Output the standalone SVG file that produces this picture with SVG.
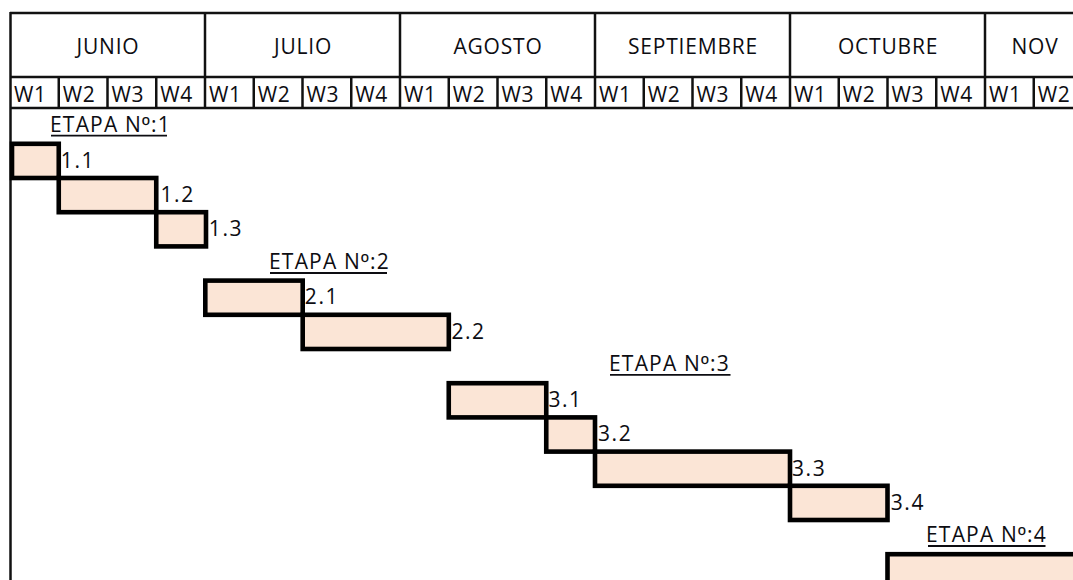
<svg xmlns="http://www.w3.org/2000/svg" width="1073" height="580" viewBox="0 0 1073 580">
  <style>
    .grid { stroke: #111; stroke-width: 2.5; fill: none; }
    text { font-family: "Open Sans", "Noto Sans", sans-serif; font-weight: 500; fill: #0d0d12; }
    .month { font-size: 21px; letter-spacing: 0.8px; text-anchor: middle; }
    .week { font-size: 21px; letter-spacing: 0.7px; }
    .stage { font-size: 21px; letter-spacing: 1.2px; }
    .ord { font-family: "Liberation Sans", sans-serif; }
    .uline { stroke: #0d0d12; stroke-width: 1.8; }
    .bar { fill: #FBE5D6; stroke: #000; stroke-width: 4.6; }
    .task { font-size: 21px; letter-spacing: 1.6px; }
  </style>

  <rect width="1073" height="580" fill="#fff"/>

  <!-- Calendar header: months and weeks -->
  <g id="header">
    <line class="grid" x1="10" y1="13" x2="1073" y2="13"/>
    <line class="grid" x1="10" y1="77" x2="1073" y2="77"/>
    <line class="grid" x1="10" y1="108" x2="1073" y2="108"/>
    <line class="grid" x1="10.5" y1="12" x2="10.5" y2="580"/>
    <!-- month separators -->
    <line class="grid" x1="205" y1="13" x2="205" y2="108"/>
    <line class="grid" x1="400" y1="13" x2="400" y2="108"/>
    <line class="grid" x1="595" y1="13" x2="595" y2="108"/>
    <line class="grid" x1="790" y1="13" x2="790" y2="108"/>
    <line class="grid" x1="985" y1="13" x2="985" y2="108"/>
    <!-- week separators -->
    <g class="grid">
      <line x1="58.75" y1="77" x2="58.75" y2="108"/>
      <line x1="107.5" y1="77" x2="107.5" y2="108"/>
      <line x1="156.25" y1="77" x2="156.25" y2="108"/>
      <line x1="253.75" y1="77" x2="253.75" y2="108"/>
      <line x1="302.5" y1="77" x2="302.5" y2="108"/>
      <line x1="351.25" y1="77" x2="351.25" y2="108"/>
      <line x1="448.75" y1="77" x2="448.75" y2="108"/>
      <line x1="497.5" y1="77" x2="497.5" y2="108"/>
      <line x1="546.25" y1="77" x2="546.25" y2="108"/>
      <line x1="643.75" y1="77" x2="643.75" y2="108"/>
      <line x1="692.5" y1="77" x2="692.5" y2="108"/>
      <line x1="741.25" y1="77" x2="741.25" y2="108"/>
      <line x1="838.75" y1="77" x2="838.75" y2="108"/>
      <line x1="887.5" y1="77" x2="887.5" y2="108"/>
      <line x1="936.25" y1="77" x2="936.25" y2="108"/>
      <line x1="1033.75" y1="77" x2="1033.75" y2="108"/>
    </g>

    <text class="month" x="108" y="53.5">JUNIO</text>
    <text class="month" x="303" y="53.5">JULIO</text>
    <text class="month" x="498" y="53.5">AGOSTO</text>
    <text class="month" x="693" y="53.5">SEPTIEMBRE</text>
    <text class="month" x="888" y="53.5">OCTUBRE</text>
    <text class="month" x="1035" y="53.5">NOV</text>

    <g class="week">
      <text x="14" y="101.5">W1</text>
      <text x="62.75" y="101.5">W2</text>
      <text x="111.5" y="101.5">W3</text>
      <text x="160.25" y="101.5">W4</text>
      <text x="209" y="101.5">W1</text>
      <text x="257.75" y="101.5">W2</text>
      <text x="306.5" y="101.5">W3</text>
      <text x="355.25" y="101.5">W4</text>
      <text x="404" y="101.5">W1</text>
      <text x="452.75" y="101.5">W2</text>
      <text x="501.5" y="101.5">W3</text>
      <text x="550.25" y="101.5">W4</text>
      <text x="599" y="101.5">W1</text>
      <text x="647.75" y="101.5">W2</text>
      <text x="696.5" y="101.5">W3</text>
      <text x="745.25" y="101.5">W4</text>
      <text x="794" y="101.5">W1</text>
      <text x="842.75" y="101.5">W2</text>
      <text x="891.5" y="101.5">W3</text>
      <text x="940.25" y="101.5">W4</text>
      <text x="989" y="101.5">W1</text>
      <text x="1037.75" y="101.5">W2</text>
    </g>
  </g>

  <!-- Stage 1 -->
  <g id="stage-1">
    <text class="stage" x="50" y="131.5">ETAPA N<tspan class="ord">º</tspan>:1</text>
    <line class="uline" x1="51" y1="135.7" x2="167" y2="135.7"/>
  </g>
  <g id="task-1-1">
    <rect class="bar" x="12" y="143.8" width="46.75" height="34.2"/>
    <text class="task" x="60.8" y="167.5">1.1</text>
  </g>
  <g id="task-1-2">
    <rect class="bar" x="58.75" y="178" width="97.5" height="34.2"/>
    <text class="task" x="160.5" y="201.8">1.2</text>
  </g>
  <g id="task-1-3">
    <rect class="bar" x="156.25" y="212.2" width="49.75" height="34.2"/>
    <text class="task" x="208.8" y="236">1.3</text>
  </g>

  <!-- Stage 2 -->
  <g id="stage-2">
    <text class="stage" x="269" y="268.8">ETAPA N<tspan class="ord">º</tspan>:2</text>
    <line class="uline" x1="270" y1="273" x2="387" y2="273"/>
  </g>
  <g id="task-2-1">
    <rect class="bar" x="205.3" y="280.6" width="97.4" height="34.2"/>
    <text class="task" x="304.8" y="304">2.1</text>
  </g>
  <g id="task-2-2">
    <rect class="bar" x="302.7" y="314.8" width="146.1" height="34.2"/>
    <text class="task" x="451.4" y="338.5">2.2</text>
  </g>

  <!-- Stage 3 -->
  <g id="stage-3">
    <text class="stage" x="609" y="370.7">ETAPA N<tspan class="ord">º</tspan>:3</text>
    <line class="uline" x1="610" y1="374.8" x2="730.5" y2="374.8"/>
  </g>
  <g id="task-3-1">
    <rect class="bar" x="448.75" y="383.2" width="97.5" height="34.2"/>
    <text class="task" x="548.4" y="407.3">3.1</text>
  </g>
  <g id="task-3-2">
    <rect class="bar" x="546.25" y="417.4" width="48.75" height="34.2"/>
    <text class="task" x="598" y="441.3">3.2</text>
  </g>
  <g id="task-3-3">
    <rect class="bar" x="595" y="451.6" width="195" height="34.2"/>
    <text class="task" x="792" y="475.5">3.3</text>
  </g>
  <g id="task-3-4">
    <rect class="bar" x="790" y="485.8" width="97.5" height="34.2"/>
    <text class="task" x="890.7" y="509.7">3.4</text>
  </g>

  <!-- Stage 4 -->
  <g id="stage-4">
    <text class="stage" x="926" y="541.7">ETAPA N<tspan class="ord">º</tspan>:4</text>
    <line class="uline" x1="928" y1="546" x2="1045.5" y2="546"/>
  </g>
  <g id="task-4-1">
    <rect class="bar" x="887.5" y="554.2" width="300" height="80"/>
  </g>
</svg>
